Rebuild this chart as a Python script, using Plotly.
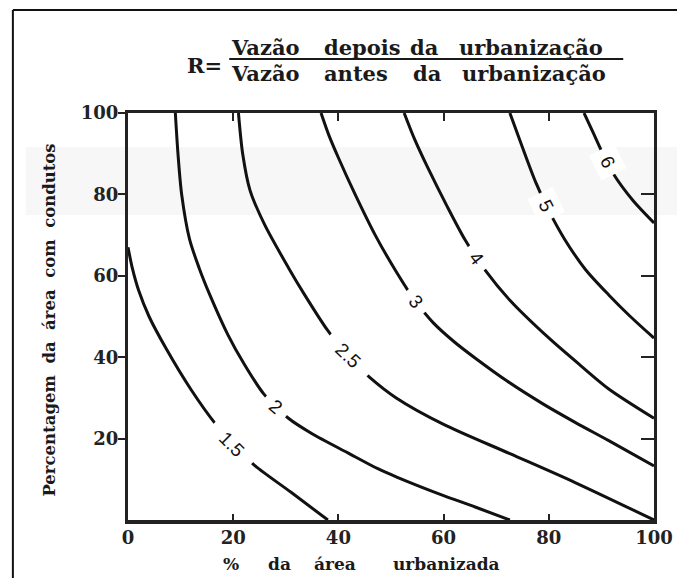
import plotly.graph_objects as go

# ---- data ----
x_15 = [0, 0.8, 2, 4, 7.3, 12, 16.7, 20, 24, 31, 38]
y_15 = [67, 62, 56.5, 50, 42, 32, 23.5, 18.7, 13.5, 6.8, 0]

x_2 = [9, 9.5, 10.2, 11.7, 13.5, 15.5, 19, 22, 25.8, 30.5, 35, 41.8, 47.5, 51.2, 60, 66, 72.6]
y_2 = [100, 90, 80, 69, 62, 55.5, 45.5, 38.5, 31, 25, 21.2, 16.5, 12.6, 10.5, 6, 3.2, 0]

x_25 = [21, 21.8, 23.2, 26, 30.5, 33.5, 38, 42, 46, 51, 60, 72.6, 85, 100]
y_25 = [100, 90, 81, 72.5, 62, 55.5, 46.5, 40, 35, 30, 23.5, 16.3, 9.2, 0]

x_3 = [36.7, 38.2, 40, 43, 47, 51, 54.5, 58, 62, 66.3, 72, 78.8, 85, 91.4, 100]
y_3 = [100, 94.5, 89, 80.5, 70, 61, 54, 48.5, 43.8, 39.5, 34.2, 28.6, 24, 19.5, 13.3]

x_4 = [52.5, 54.5, 56.9, 60.5, 64.1, 67.9, 72.6, 80.1, 86, 91.4, 100]
y_4 = [100, 93.5, 86.8, 77.5, 68.8, 61.4, 54, 44.6, 38, 32.2, 25]

x_5 = [72.6, 75, 77.5, 80, 83, 87, 91.4, 95.5, 100]
y_5 = [100, 91.5, 83, 76, 69, 61.5, 55.3, 50, 44.7]

x_6 = [86.7, 88.5, 90.1, 92.3, 96, 100]
y_6 = [100, 95, 90.5, 85, 78.5, 73]

curves = [(x_15, y_15), (x_2, y_2), (x_25, y_25), (x_3, y_3),
          (x_4, y_4), (x_5, y_5), (x_6, y_6)]

label_text = ["1.5", "2", "2.5", "3", "4", "5", "6"]
label_x = [19.8, 28, 41.8, 54.7, 66.3, 79.5, 91.1]
label_y = [18.6, 27.8, 40.3, 53.6, 64.3, 77.3, 88]
label_angle = [45, 40, 44, 50, 52, 63, 63]

x_ticks = [0, 20, 40, 60, 80, 100]
y_ticks = [20, 40, 60, 80, 100]

# ---- layout geometry (page pixels of the reference) ----
OFF = 8                      # page body offset of the rendered figure
W, H = 685 - OFF, 578 - OFF
PL, PR, PT, PB = 128, 658, 113, 520


def px(xp):
    return (xp - PL) / (PR - PL)


def py(yp):
    return (PB - yp) / (PB - PT)


fig = go.Figure()

for cx, cy in curves:
    fig.add_trace(go.Scatter(x=cx, y=cy, mode="lines",
                             line=dict(color="#111111", width=3,
                                       shape="spline", smoothing=0.8),
                             hoverinfo="skip", showlegend=False))

# empty trace to activate the top/right axes
fig.add_trace(go.Scatter(x=[], y=[], xaxis="x2", yaxis="y2",
                         showlegend=False))

serif = "DejaVu Serif"
annotations = []

# contour labels
pad = "\u00a0"
for t, lx, ly, ang in zip(label_text, label_x, label_y, label_angle):
    txt = pad * 2 + t + pad * 2 if len(t) > 1 else pad + t + pad
    annotations.append(dict(x=lx, y=ly, xref="x", yref="y", text=txt,
                            showarrow=False, textangle=ang,
                            bgcolor="white", borderpad=3,
                            font=dict(family="Liberation Sans", size=19,
                                      color="#111111")))

# title fraction
tfont = dict(family=serif, size=21, color="#1a1a1a", weight="bold")
annotations.append(dict(x=px(185), y=py(66), xref="paper", yref="paper",
                        text="R=", showarrow=False, xanchor="left",
                        yanchor="middle", font=tfont))
num_words = ["Vazão", "depois", "da", "urbanização"]
num_pos = [230, 323, 410, 460]
den_words = ["Vazão", "antes", "da", "urbanização"]
den_pos = [230, 323, 413, 463]
for w, xp in zip(num_words, num_pos):
    annotations.append(dict(x=px(xp), y=py(48), xref="paper", yref="paper",
                            text=w, showarrow=False, xanchor="left",
                            yanchor="middle", font=tfont))
for w, xp in zip(den_words, den_pos):
    annotations.append(dict(x=px(xp), y=py(74), xref="paper", yref="paper",
                            text=w, showarrow=False, xanchor="left",
                            yanchor="middle", font=tfont))

# axis titles
afont = dict(family=serif, size=17, color="#1a1a1a", weight="bold")
xt_words = ["%", "da", "área", "urbanizada"]
xt_pos = [222, 267, 313, 393]
for w, xp in zip(xt_words, xt_pos):
    annotations.append(dict(x=px(xp), y=py(564), xref="paper", yref="paper",
                            text=w, showarrow=False, xanchor="left",
                            yanchor="middle", font=afont))
yfont = dict(family=serif, size=16.5, color="#1a1a1a", weight="bold")
annotations.append(dict(x=px(48), y=py(320), xref="paper", yref="paper",
                        text="Percentagem\u00a0\u00a0da\u00a0\u00a0área\u00a0\u00a0com\u00a0\u00a0condutos",
                        showarrow=False, textangle=-90, xanchor="center",
                        yanchor="middle", font=yfont))

shapes = [
    # faint scan band
    dict(type="rect", xref="paper", yref="paper", x0=px(25), x1=px(700),
         y0=py(215), y1=py(147), fillcolor="#f7f7f7", line_width=0,
         layer="below"),
    # outer frame (left & top)
    dict(type="line", xref="paper", yref="paper", x0=px(12), x1=px(12),
         y0=py(10), y1=py(600), line=dict(color="#111111", width=2)),
    dict(type="line", xref="paper", yref="paper", x0=px(12), x1=px(700),
         y0=py(10), y1=py(10), line=dict(color="#111111", width=2)),
    # fraction bar
    dict(type="line", xref="paper", yref="paper", x0=px(230), x1=px(627),
         y0=py(59), y1=py(59), line=dict(color="#1a1a1a", width=2)),
]

tickfont = dict(family=serif, size=18, color="#222222", weight="bold")

fig.update_layout(
    width=W, height=H,
    margin=dict(l=PL - OFF, r=685 - PR, t=PT - OFF, b=578 - PB, pad=0),
    paper_bgcolor="white",
    plot_bgcolor="rgba(0,0,0,0)",
    showlegend=False,
    xaxis=dict(range=[0, 100], tickvals=x_ticks, ticks="inside", ticklen=6,
               tickwidth=2, tickcolor="#222222", showline=True,
               linewidth=4, linecolor="#222222", showgrid=False,
               zeroline=False, tickfont=tickfont, mirror=False,
               ticklabelstandoff=-2),
    yaxis=dict(range=[0, 100], tickvals=y_ticks, ticks="outside", ticklen=7,
               tickwidth=2, tickcolor="#222222", showline=True,
               linewidth=3, linecolor="#222222", showgrid=False,
               zeroline=False, tickfont=tickfont, mirror=False,
               ticklabelstandoff=-4),
    xaxis2=dict(range=[0, 100], tickvals=x_ticks[1:-1], ticks="inside",
                ticklen=8, tickwidth=2, tickcolor="#222222", showline=True,
                linewidth=2.5, linecolor="#222222", showgrid=False,
                zeroline=False, showticklabels=False, overlaying="x",
                side="top", anchor="y2"),
    yaxis2=dict(range=[0, 100], tickvals=y_ticks[:-1], ticks="inside",
                ticklen=13, tickwidth=2, tickcolor="#222222", showline=True,
                linewidth=3, linecolor="#222222", showgrid=False,
                zeroline=False, showticklabels=False, overlaying="y",
                side="right", anchor="x2"),
    annotations=annotations,
    shapes=shapes,
)

fig.write_html("out.html")
